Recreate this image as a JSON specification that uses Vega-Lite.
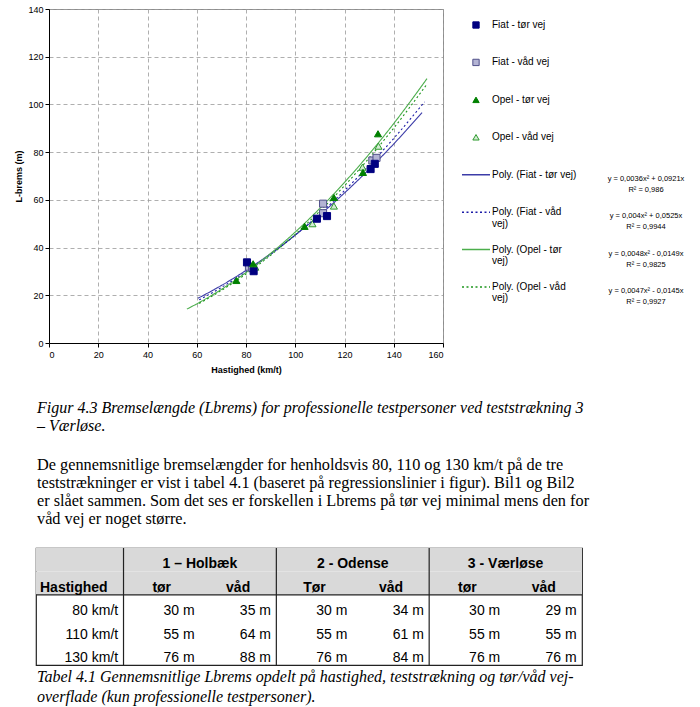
{
  "$schema": "https://vega.github.io/schema/vega-lite/v6.json",
  "background": "white",
  "padding": {"left": 14, "top": 4, "right": 0, "bottom": 0},
  "bounds": "flush",
  "spacing": 539,
  "config": {
    "view": {"stroke": null},
    "font": "Liberation Sans",
    "axis": {
      "labelFont": "Liberation Sans", "labelFontSize": 9, "labelColor": "#000", "labelFontWeight": "normal",
      "titleFont": "Liberation Sans", "titleFontSize": 9, "titleFontWeight": "bold", "titleColor": "#000",
      "domainColor": "#000", "domainWidth": 1, "tickColor": "#000", "tickSize": 4,
      "gridColor": "#9a9a9a", "gridDash": [4, 3], "gridWidth": 0.8
    }
  },
  "datasets": {
    "points": [
      {"series": "Fiat - våd vej", "speed": 81.2, "brake": 32.0},
      {"series": "Fiat - våd vej", "speed": 82.5, "brake": 31.5},
      {"series": "Fiat - våd vej", "speed": 111.3, "brake": 58.4},
      {"series": "Fiat - våd vej", "speed": 111.3, "brake": 54.4},
      {"series": "Fiat - våd vej", "speed": 131.3, "brake": 76.5},
      {"series": "Fiat - våd vej", "speed": 133.0, "brake": 77.6},
      {"series": "Opel - våd vej", "speed": 83.8, "brake": 31.8},
      {"series": "Opel - våd vej", "speed": 107.0, "brake": 50.0},
      {"series": "Opel - våd vej", "speed": 115.7, "brake": 57.4},
      {"series": "Opel - våd vej", "speed": 127.3, "brake": 73.7},
      {"series": "Opel - våd vej", "speed": 133.8, "brake": 82.5},
      {"series": "Fiat - tør vej", "speed": 80.4, "brake": 33.8},
      {"series": "Fiat - tør vej", "speed": 83.1, "brake": 30.1},
      {"series": "Fiat - tør vej", "speed": 108.8, "brake": 52.1},
      {"series": "Fiat - tør vej", "speed": 112.9, "brake": 53.2},
      {"series": "Fiat - tør vej", "speed": 130.6, "brake": 72.9},
      {"series": "Fiat - tør vej", "speed": 132.3, "brake": 75.1},
      {"series": "Opel - tør vej", "speed": 76.1, "brake": 26.2},
      {"series": "Opel - tør vej", "speed": 82.9, "brake": 33.2},
      {"series": "Opel - tør vej", "speed": 103.8, "brake": 48.9},
      {"series": "Opel - tør vej", "speed": 115.7, "brake": 61.0},
      {"series": "Opel - tør vej", "speed": 127.5, "brake": 71.5},
      {"series": "Opel - tør vej", "speed": 133.6, "brake": 87.7}
    ],
    "fits": [
      {"series": "Poly. (Fiat - tør vej)", "speed": 60.5, "brake": 18.75},
      {"series": "Poly. (Fiat - tør vej)", "speed": 70, "brake": 24.09},
      {"series": "Poly. (Fiat - tør vej)", "speed": 80, "brake": 30.41},
      {"series": "Poly. (Fiat - tør vej)", "speed": 90, "brake": 37.45},
      {"series": "Poly. (Fiat - tør vej)", "speed": 100, "brake": 45.21},
      {"series": "Poly. (Fiat - tør vej)", "speed": 110, "brake": 53.69},
      {"series": "Poly. (Fiat - tør vej)", "speed": 120, "brake": 62.89},
      {"series": "Poly. (Fiat - tør vej)", "speed": 130, "brake": 72.81},
      {"series": "Poly. (Fiat - tør vej)", "speed": 140, "brake": 83.45},
      {"series": "Poly. (Fiat - tør vej)", "speed": 151.5, "brake": 96.58},
      {"series": "Poly. (Fiat - våd vej)", "speed": 61, "brake": 18.09},
      {"series": "Poly. (Fiat - våd vej)", "speed": 70, "brake": 23.28},
      {"series": "Poly. (Fiat - våd vej)", "speed": 80, "brake": 29.80},
      {"series": "Poly. (Fiat - våd vej)", "speed": 90, "brake": 37.13},
      {"series": "Poly. (Fiat - våd vej)", "speed": 100, "brake": 45.25},
      {"series": "Poly. (Fiat - våd vej)", "speed": 110, "brake": 54.18},
      {"series": "Poly. (Fiat - våd vej)", "speed": 120, "brake": 63.90},
      {"series": "Poly. (Fiat - våd vej)", "speed": 130, "brake": 74.43},
      {"series": "Poly. (Fiat - våd vej)", "speed": 140, "brake": 85.75},
      {"series": "Poly. (Fiat - våd vej)", "speed": 152.5, "brake": 101.03},
      {"series": "Poly. (Opel - tør vej)", "speed": 56, "brake": 14.22},
      {"series": "Poly. (Opel - tør vej)", "speed": 60, "brake": 16.39},
      {"series": "Poly. (Opel - tør vej)", "speed": 70, "brake": 22.48},
      {"series": "Poly. (Opel - tør vej)", "speed": 80, "brake": 29.53},
      {"series": "Poly. (Opel - tør vej)", "speed": 90, "brake": 37.54},
      {"series": "Poly. (Opel - tør vej)", "speed": 100, "brake": 46.51},
      {"series": "Poly. (Opel - tør vej)", "speed": 110, "brake": 56.44},
      {"series": "Poly. (Opel - tør vej)", "speed": 120, "brake": 67.33},
      {"series": "Poly. (Opel - tør vej)", "speed": 130, "brake": 79.18},
      {"series": "Poly. (Opel - tør vej)", "speed": 140, "brake": 91.99},
      {"series": "Poly. (Opel - tør vej)", "speed": 153.5, "brake": 110.81},
      {"series": "Poly. (Opel - våd vej)", "speed": 61, "brake": 16.60},
      {"series": "Poly. (Opel - våd vej)", "speed": 70, "brake": 22.02},
      {"series": "Poly. (Opel - våd vej)", "speed": 80, "brake": 28.92},
      {"series": "Poly. (Opel - våd vej)", "speed": 90, "brake": 36.77},
      {"series": "Poly. (Opel - våd vej)", "speed": 100, "brake": 45.55},
      {"series": "Poly. (Opel - våd vej)", "speed": 110, "brake": 55.28},
      {"series": "Poly. (Opel - våd vej)", "speed": 120, "brake": 65.94},
      {"series": "Poly. (Opel - våd vej)", "speed": 130, "brake": 77.55},
      {"series": "Poly. (Opel - våd vej)", "speed": 140, "brake": 90.09},
      {"series": "Poly. (Opel - våd vej)", "speed": 153.5, "brake": 108.52}
    ],
    "legendItems": [
      {"item": 0, "series": "Fiat - tør vej", "label": "Fiat - tør vej"},
      {"item": 1, "series": "Fiat - våd vej", "label": "Fiat - våd vej"},
      {"item": 2, "series": "Opel - tør vej", "label": "Opel - tør vej"},
      {"item": 3, "series": "Opel - våd vej", "label": "Opel - våd vej"},
      {"item": 4, "series": "Poly. (Fiat - tør vej)", "label": "Poly. (Fiat - tør vej)"},
      {"item": 5, "series": "Poly. (Fiat - våd vej)", "label": "Poly. (Fiat - våd\nvej)"},
      {"item": 6, "series": "Poly. (Opel - tør vej)", "label": "Poly. (Opel - tør\nvej)"},
      {"item": 7, "series": "Poly. (Opel - våd vej)", "label": "Poly. (Opel - våd\nvej)"}
    ],
    "equations": [
      {"item": 4, "equation": "y = 0,0036x² + 0,0921x\nR² = 0,986"},
      {"item": 5, "equation": "y = 0,004x² + 0,0525x\nR² = 0,9944"},
      {"item": 6, "equation": "y = 0,0048x² - 0,0149x\nR² = 0,9825"},
      {"item": 7, "equation": "y = 0,0047x² - 0,0145x\nR² = 0,9927"}
    ],
    "tableHeaderRows": [{"row": "group"}, {"row": "sub"}],
    "tableVLines": [{"column": "1-tør"}, {"column": "2-tør"}, {"column": "3-tør"}],
    "tableHLines": [{"row": "80 km/t"}],
    "tableGroups": [
      {"row": "group", "column": "1-tør", "text": "1 – Holbæk"},
      {"row": "group", "column": "2-tør", "text": "2 - Odense"},
      {"row": "group", "column": "3-tør", "text": "3 - Værløse"}
    ],
    "tableSub": [
      {"row": "sub", "column": "1-tør", "text": "tør"},
      {"row": "sub", "column": "1-våd", "text": "våd"},
      {"row": "sub", "column": "2-tør", "text": "Tør"},
      {"row": "sub", "column": "2-våd", "text": "våd"},
      {"row": "sub", "column": "3-tør", "text": "tør"},
      {"row": "sub", "column": "3-våd", "text": "våd"}
    ],
    "tableCorner": [{"row": "sub", "column": "Hastighed", "text": "Hastighed"}],
    "tableCells": [
      {"row": "80 km/t", "column": "Hastighed", "text": "80 km/t"},
      {"row": "80 km/t", "column": "1-tør", "text": "30 m"},
      {"row": "80 km/t", "column": "1-våd", "text": "35 m"},
      {"row": "80 km/t", "column": "2-tør", "text": "30 m"},
      {"row": "80 km/t", "column": "2-våd", "text": "34 m"},
      {"row": "80 km/t", "column": "3-tør", "text": "30 m"},
      {"row": "80 km/t", "column": "3-våd", "text": "29 m"},
      {"row": "110 km/t", "column": "Hastighed", "text": "110 km/t"},
      {"row": "110 km/t", "column": "1-tør", "text": "55 m"},
      {"row": "110 km/t", "column": "1-våd", "text": "64 m"},
      {"row": "110 km/t", "column": "2-tør", "text": "55 m"},
      {"row": "110 km/t", "column": "2-våd", "text": "61 m"},
      {"row": "110 km/t", "column": "3-tør", "text": "55 m"},
      {"row": "110 km/t", "column": "3-våd", "text": "55 m"},
      {"row": "130 km/t", "column": "Hastighed", "text": "130 km/t"},
      {"row": "130 km/t", "column": "1-tør", "text": "76 m"},
      {"row": "130 km/t", "column": "1-våd", "text": "88 m"},
      {"row": "130 km/t", "column": "2-tør", "text": "76 m"},
      {"row": "130 km/t", "column": "2-våd", "text": "84 m"},
      {"row": "130 km/t", "column": "3-tør", "text": "76 m"},
      {"row": "130 km/t", "column": "3-våd", "text": "76 m"}
    ]
  },
  "vconcat": [
    {
      "spacing": 12,
      "bounds": "flush",
      "title": {
        "text": [
          "Figur 4.3 Bremselængde (Lbrems) for professionelle testpersoner ved teststrækning 3",
          "– Værløse."
        ],
        "subtitle": [
          "De gennemsnitlige bremselængder for henholdsvis 80, 110 og 130 km/t på de tre",
          "teststrækninger er vist i tabel 4.1 (baseret på regressionslinier i figur). Bil1 og Bil2",
          "er slået sammen. Som det ses er forskellen i Lbrems på tør vej minimal mens den for",
          "våd vej er noget større."
        ],
        "orient": "bottom", "anchor": "start", "frame": "group", "dx": 1, "offset": 25,
        "font": "Liberation Serif", "fontSize": 16, "fontStyle": "italic", "fontWeight": "normal", "color": "#000", "lineHeight": 18,
        "subtitleFont": "Liberation Serif", "subtitleFontSize": 16.3, "subtitleFontStyle": "normal",
        "subtitleColor": "#000", "subtitleLineHeight": 18, "subtitlePadding": 23
      },
      "hconcat": [
        {
          "width": 1,
          "height": 334,
          "data": {"values": []},
          "mark": {"type": "point"}
        },
        {
          "width": 394,
          "height": 334,
          "view": {"stroke": "#8c8c8c"},
          "layer": [
            {
              "data": {"name": "fits"},
              "mark": {"type": "line", "interpolate": "monotone", "strokeWidth": 1.1},
              "encoding": {
                "x": {"field": "speed", "type": "quantitative",
                      "scale": {"domain": [0, 160], "nice": false},
                      "axis": {"title": "Hastighed (km/t)", "values": [0, 20, 40, 60, 80, 100, 120, 140, 160], "grid": true, "labelPadding": 3, "titlePadding": 6}},
                "y": {"field": "brake", "type": "quantitative",
                      "scale": {"domain": [0, 140], "nice": false},
                      "axis": {"title": "L-brems (m)", "values": [0, 20, 40, 60, 80, 100, 120, 140], "grid": true, "labelPadding": 2, "titlePadding": 4}},
                "stroke": {"field": "series", "type": "nominal", "legend": null,
                           "scale": {"domain": ["Fiat - tør vej", "Fiat - våd vej", "Opel - tør vej", "Opel - våd vej", "Poly. (Fiat - tør vej)", "Poly. (Fiat - våd vej)", "Poly. (Opel - tør vej)", "Poly. (Opel - våd vej)"],
                                     "range": ["#000080", "#50508a", "#008000", "#2e9a2e", "#3c3ca8", "#1c1ca8", "#4cae4c", "#1e961e"]}},
                "strokeDash": {"field": "series", "type": "nominal", "legend": null,
                               "scale": {"domain": ["Poly. (Fiat - tør vej)", "Poly. (Fiat - våd vej)", "Poly. (Opel - tør vej)", "Poly. (Opel - våd vej)"],
                                         "range": [[1, 0], [2, 2.5], [1, 0], [2, 2.5]]}}
              }
            },
            {
              "data": {"name": "points"},
              "mark": {"type": "point", "filled": true, "size": 50, "strokeWidth": 1, "opacity": 1},
              "encoding": {
                "x": {"field": "speed", "type": "quantitative"},
                "y": {"field": "brake", "type": "quantitative"},
                "fill": {"field": "series", "type": "nominal", "legend": null,
                         "scale": {"domain": ["Fiat - tør vej", "Fiat - våd vej", "Opel - tør vej", "Opel - våd vej"],
                                   "range": ["#000080", "#b4b4d4", "#008000", "#d4ecd4"]}},
                "stroke": {"field": "series", "type": "nominal", "legend": null,
                           "scale": {"domain": ["Fiat - tør vej", "Fiat - våd vej", "Opel - tør vej", "Opel - våd vej", "Poly. (Fiat - tør vej)", "Poly. (Fiat - våd vej)", "Poly. (Opel - tør vej)", "Poly. (Opel - våd vej)"],
                                     "range": ["#000080", "#50508a", "#008000", "#2e9a2e", "#3c3ca8", "#1c1ca8", "#4cae4c", "#1e961e"]}},
                "shape": {"field": "series", "type": "nominal", "legend": null,
                          "scale": {"domain": ["Fiat - tør vej", "Fiat - våd vej", "Opel - tør vej", "Opel - våd vej", "Poly. (Fiat - tør vej)", "Poly. (Fiat - våd vej)", "Poly. (Opel - tør vej)", "Poly. (Opel - våd vej)"],
                                    "range": ["square", "square", "triangle-up", "triangle-up", "stroke", "stroke", "stroke", "stroke"]}}
              }
            }
          ]
        },
        {
          "width": 245,
          "height": 334,
          "data": {"name": "legendItems"},
          "encoding": {
            "y": {"field": "item", "type": "quantitative", "axis": null,
                  "scale": {"domain": [-0.4275, 8.4965], "reverse": true, "nice": false, "zero": false}}
          },
          "layer": [
            {
              "transform": [{"filter": {"field": "item", "lt": 4}}],
              "mark": {"type": "point", "filled": true, "size": 40, "strokeWidth": 1, "opacity": 1},
              "encoding": {
                "x": {"value": 21},
                "fill": {"field": "series", "type": "nominal", "legend": null,
                         "scale": {"domain": ["Fiat - tør vej", "Fiat - våd vej", "Opel - tør vej", "Opel - våd vej"],
                                   "range": ["#000080", "#b4b4d4", "#008000", "#d4ecd4"]}},
                "stroke": {"field": "series", "type": "nominal", "legend": null,
                           "scale": {"domain": ["Fiat - tør vej", "Fiat - våd vej", "Opel - tør vej", "Opel - våd vej", "Poly. (Fiat - tør vej)", "Poly. (Fiat - våd vej)", "Poly. (Opel - tør vej)", "Poly. (Opel - våd vej)"],
                                     "range": ["#000080", "#50508a", "#008000", "#2e9a2e", "#3c3ca8", "#1c1ca8", "#4cae4c", "#1e961e"]}},
                "shape": {"field": "series", "type": "nominal", "legend": null,
                          "scale": {"domain": ["Fiat - tør vej", "Fiat - våd vej", "Opel - tør vej", "Opel - våd vej", "Poly. (Fiat - tør vej)", "Poly. (Fiat - våd vej)", "Poly. (Opel - tør vej)", "Poly. (Opel - våd vej)"],
                                    "range": ["square", "square", "triangle-up", "triangle-up", "stroke", "stroke", "stroke", "stroke"]}}
              }
            },
            {
              "transform": [{"filter": {"field": "item", "gte": 4}}],
              "mark": {"type": "point", "filled": false, "size": 784, "strokeWidth": 1.5, "opacity": 1},
              "encoding": {
                "x": {"value": 21},
                "stroke": {"field": "series", "type": "nominal", "legend": null,
                           "scale": {"domain": ["Fiat - tør vej", "Fiat - våd vej", "Opel - tør vej", "Opel - våd vej", "Poly. (Fiat - tør vej)", "Poly. (Fiat - våd vej)", "Poly. (Opel - tør vej)", "Poly. (Opel - våd vej)"],
                                     "range": ["#000080", "#50508a", "#008000", "#2e9a2e", "#3c3ca8", "#1c1ca8", "#4cae4c", "#1e961e"]}},
                "shape": {"field": "series", "type": "nominal", "legend": null,
                          "scale": {"domain": ["Fiat - tør vej", "Fiat - våd vej", "Opel - tør vej", "Opel - våd vej", "Poly. (Fiat - tør vej)", "Poly. (Fiat - våd vej)", "Poly. (Opel - tør vej)", "Poly. (Opel - våd vej)"],
                                    "range": ["square", "square", "triangle-up", "triangle-up", "stroke", "stroke", "stroke", "stroke"]}},
                "strokeDash": {"field": "series", "type": "nominal", "legend": null,
                               "scale": {"domain": ["Poly. (Fiat - tør vej)", "Poly. (Fiat - våd vej)", "Poly. (Opel - tør vej)", "Poly. (Opel - våd vej)"],
                                         "range": [[1, 0], [2, 2.5], [1, 0], [2, 2.5]]}}
              }
            },
            {
              "mark": {"type": "text", "align": "left", "baseline": "middle", "font": "Liberation Sans", "fontSize": 10, "lineBreak": "\n", "lineHeight": 11.5, "color": "#000"},
              "encoding": {
                "x": {"value": 37},
                "text": {"field": "label", "type": "nominal"}
              }
            },
            {
              "data": {"name": "equations"},
              "mark": {"type": "text", "align": "center", "baseline": "top", "font": "Liberation Sans", "fontSize": 7.5, "lineBreak": "\n", "lineHeight": 11, "color": "#000"},
              "encoding": {
                "x": {"value": 191},
                "text": {"field": "equation", "type": "nominal"}
              }
            }
          ]
        }
      ]
    },
    {
      "width": 546,
      "height": 117,
      "view": {"stroke": "#222", "strokeWidth": 1.2},
      "title": {
        "text": [
          "Tabel 4.1 Gennemsnitlige Lbrems opdelt på hastighed, teststrækning og tør/våd vej-",
          "overflade (kun professionelle testpersoner)."
        ],
        "orient": "bottom", "anchor": "start", "frame": "group", "offset": 3, "dx": 1,
        "font": "Liberation Serif", "fontSize": 16, "fontStyle": "italic", "fontWeight": "normal",
        "color": "#000", "lineHeight": 20
      },
      "layer": [
        {
          "data": {"name": "tableHeaderRows"},
          "mark": {"type": "rect", "fill": "#d9d9d9"},
          "encoding": {
            "y": {"field": "row", "type": "ordinal", "axis": null,
                  "scale": {"domain": ["group", "sub", "80 km/t", "110 km/t", "130 km/t"], "paddingInner": 0, "paddingOuter": 0}}
          }
        },
        {
          "data": {"name": "tableVLines"},
          "mark": {"type": "rule", "stroke": "#222", "strokeWidth": 1.2},
          "encoding": {
            "x": {"field": "column", "type": "ordinal", "axis": null, "bandPosition": 0,
                  "scale": {"domain": ["Hastighed", "1-tør", "1-våd", "2-tør", "2-våd", "3-tør", "3-våd"], "range": [11.1, 546], "paddingInner": 0, "paddingOuter": 0}}
          }
        },
        {
          "data": {"name": "tableHLines"},
          "mark": {"type": "rule", "stroke": "#222", "strokeWidth": 1.2},
          "encoding": {
            "y": {"field": "row", "type": "ordinal", "axis": null, "bandPosition": 0}
          }
        },
        {
          "data": {"name": "tableGroups"},
          "mark": {"type": "text", "align": "center", "baseline": "middle", "font": "Liberation Sans", "fontSize": 14, "fontWeight": "bold", "color": "#000"},
          "encoding": {
            "x": {"field": "column", "type": "ordinal", "axis": null, "bandPosition": 1},
            "y": {"field": "row", "type": "ordinal", "axis": null, "bandPosition": 0.7},
            "text": {"field": "text", "type": "nominal"}
          }
        },
        {
          "data": {"name": "tableSub"},
          "mark": {"type": "text", "align": "center", "baseline": "middle", "font": "Liberation Sans", "fontSize": 14, "fontWeight": "bold", "color": "#000"},
          "encoding": {
            "x": {"field": "column", "type": "ordinal", "axis": null, "bandPosition": 0.5},
            "y": {"field": "row", "type": "ordinal", "axis": null, "bandPosition": 0.7},
            "text": {"field": "text", "type": "nominal"}
          }
        },
        {
          "data": {"name": "tableCorner"},
          "mark": {"type": "text", "align": "left", "baseline": "middle", "font": "Liberation Sans", "fontSize": 14, "fontWeight": "bold", "color": "#000"},
          "encoding": {
            "x": {"field": "column", "type": "ordinal", "axis": null, "bandPosition": -0.093},
            "y": {"field": "row", "type": "ordinal", "axis": null, "bandPosition": 0.7},
            "text": {"field": "text", "type": "nominal"}
          }
        },
        {
          "data": {"name": "tableCells"},
          "mark": {"type": "text", "align": "right", "baseline": "middle", "font": "Liberation Sans", "fontSize": 14, "color": "#000"},
          "encoding": {
            "x": {"field": "column", "type": "ordinal", "axis": null, "bandPosition": 0.93},
            "y": {"field": "row", "type": "ordinal", "axis": null, "bandPosition": 0.7},
            "text": {"field": "text", "type": "nominal"}
          }
        }
      ]
    }
  ]
}
